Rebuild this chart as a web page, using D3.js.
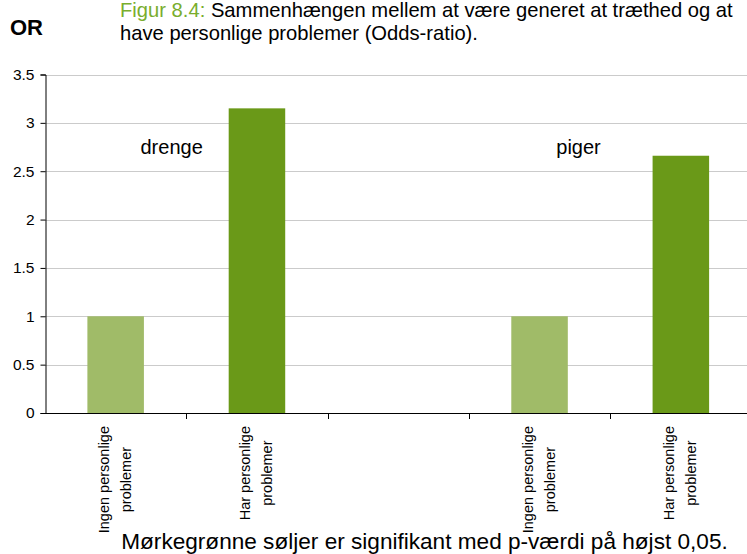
<!DOCTYPE html>
<html>
<head>
<meta charset="utf-8">
<script src="https://cdn.jsdelivr.net/npm/d3@7"></script>
<style>
  html, body { margin: 0; padding: 0; background: #fff; }
  svg { display: block; font-family: "Liberation Sans", Arial, sans-serif; }
</style>
</head>
<body>
<svg id="chart" width="747" height="554"></svg>
<script>
// Odds-ratios per group: reference category (no personal problems) = 1
const categoryLines = [
  ["Ingen personlige", "problemer"],
  ["Har personlige", "problemer"],
  [],
  ["Ingen personlige", "problemer"],
  ["Har personlige", "problemer"]
];
const oddsRatios = [1, 3.15, null, 1, 2.66];
const significant = [false, true, null, false, true];
const groupNames = ["drenge", "piger"];
const yTicks = [0, 0.5, 1, 1.5, 2, 2.5, 3, 3.5];

const svg = d3.select("#chart");
const W = 747;

const plotLeft = 45, plotRight = 751.5, plotTop = 74.5, plotBottom = 413;

const x = d3.scaleBand()
  .domain(d3.range(oddsRatios.length))
  .range([plotLeft, plotRight])
  .paddingInner(0.6)
  .paddingOuter(0.3);

const y = d3.scaleLinear().domain([0, 3.5]).range([plotBottom, plotTop]);

const light = "#a0bb68", dark = "#6a9918";

// Gridlines
svg.append("g")
  .selectAll("line")
  .data(yTicks.filter(d => d > 0))
  .join("line")
  .attr("x1", plotLeft).attr("x2", W)
  .attr("y1", d => Math.round(y(d)) + 0.5)
  .attr("y2", d => Math.round(y(d)) + 0.5)
  .attr("stroke", "#cbcbcb")
  .attr("stroke-width", 1);

// Bars
svg.append("g")
  .selectAll("rect")
  .data(oddsRatios.map((v, i) => ({ i, v, sig: significant[i] })).filter(d => d.v != null))
  .join("rect")
  .attr("x", d => x(d.i))
  .attr("width", x.bandwidth())
  .attr("y", d => y(d.v))
  .attr("height", d => y(0) - y(d.v))
  .attr("fill", d => d.sig ? dark : light);

// Y axis
const yAxis = d3.axisLeft(y)
  .tickValues(yTicks)
  .tickFormat(d => String(d))
  .tickSize(5)
  .tickPadding(6);

const gy = svg.append("g")
  .attr("transform", `translate(${plotLeft + 0.5},0)`)
  .call(yAxis);
gy.select(".domain").attr("stroke", "#000");
gy.selectAll(".tick line").attr("stroke", "#000");
gy.selectAll(".tick text")
  .attr("fill", "#000")
  .style("font-size", "15.5px")
  .style("font-family", '"Liberation Sans", Arial, sans-serif');

// X axis baseline and category boundary ticks
const step = x.step();
const boundaries = d3.range(1, oddsRatios.length).map(i => plotLeft + i * step);
svg.append("line")
  .attr("x1", plotLeft).attr("x2", W)
  .attr("y1", plotBottom + 0.5).attr("y2", plotBottom + 0.5)
  .attr("stroke", "#000");
svg.append("g")
  .selectAll("line")
  .data(boundaries)
  .join("line")
  .attr("x1", d => Math.round(d) + 0.5).attr("x2", d => Math.round(d) + 0.5)
  .attr("y1", plotBottom).attr("y2", plotBottom + 6)
  .attr("stroke", "#000");

// Rotated category labels (two lines, centred on each other, top-aligned)
const labelTop = 426;
const labelG = svg.append("g");
categoryLines.forEach((lines, i) => {
  if (!lines.length) return;
  const cx = x(i) + x.bandwidth() / 2;
  const t = labelG.append("text")
    .attr("text-anchor", "middle")
    .style("font-size", "14.5px")
    .attr("fill", "#000");
  const spans = lines.map((ln, k) =>
    t.append("tspan").attr("x", 0).attr("y", k === 0 ? -7 : 15).text(ln));
  const maxLen = d3.max(spans, s => s.node().getComputedTextLength());
  t.attr("transform", `translate(${cx},${labelTop + maxLen / 2}) rotate(-90)`);
});

// Group annotations
const groupAt = [x(0) + x.bandwidth() / 2 + 56, x(3) + x.bandwidth() / 2 + 39];
svg.append("g")
  .selectAll("text")
  .data(groupNames)
  .join("text")
  .attr("x", (d, i) => groupAt[i])
  .attr("y", y(2.68))
  .attr("text-anchor", "middle")
  .style("font-size", "20px")
  .attr("fill", "#000")
  .text(d => d);

// Y-axis title
svg.append("text")
  .attr("x", 10).attr("y", 35)
  .style("font-size", "22px")
  .style("font-weight", "bold")
  .attr("fill", "#000")
  .text("OR");

// Figure title
const title = svg.append("text")
  .attr("x", 120).attr("y", 16.5)
  .style("font-size", "20.2px")
  .attr("fill", "#000");
title.append("tspan").attr("fill", "#79ad2d").text("Figur 8.4:");
title.append("tspan").text(" Sammenhængen mellem at være generet at træthed og at");
svg.append("text")
  .attr("x", 120).attr("y", 39.5)
  .style("font-size", "20.2px")
  .attr("fill", "#000")
  .text("have personlige problemer (Odds-ratio).");

// Footnote
svg.append("text")
  .attr("x", 424.5).attr("y", 548.5)
  .attr("text-anchor", "middle")
  .style("font-size", "22.6px")
  .attr("fill", "#000")
  .text("Mørkegrønne søljer er signifikant med p-værdi på højst 0,05.");
</script>
</body>
</html>
